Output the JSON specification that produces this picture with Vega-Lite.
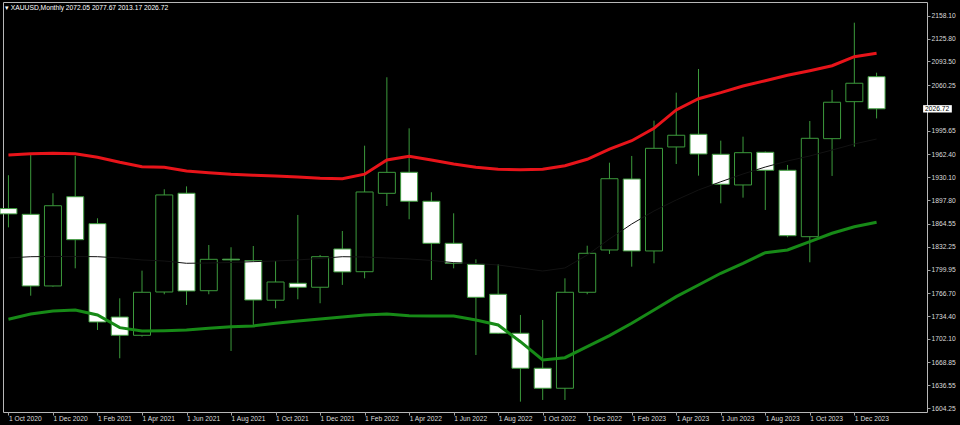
{
  "$schema": "https://vega.github.io/schema/vega-lite/v6.json",
  "width": 924,
  "height": 410,
  "autosize": {"type": "none"},
  "padding": {"left": 3, "top": 2, "right": 33, "bottom": 13},
  "background": "#000000",
  "title": {
    "text": "▾ XAUUSD,Monthly  2072.05 2077.67 2013.17 2026.72",
    "anchor": "start",
    "frame": "group",
    "orient": "top",
    "offset": -10,
    "dx": 2,
    "font": "Liberation Sans",
    "fontSize": 6.7,
    "fontWeight": "normal",
    "color": "#ffffff"
  },
  "config": {
    "view": {"stroke": "#b8b8b8", "strokeWidth": 1, "fill": "#000000"},
    "axis": {"labelOverlap": false, "labelSeparation": 0, "labelBound": false}
  },
  "datasets": {
    "candles": [
      {"idx": 0, "month": "2020-10", "open": 1886.0, "high": 1933.0, "low": 1859.5, "close": 1878.5, "upper": 1961.6, "middle": 1816.3, "lower": 1729.8},
      {"idx": 1, "month": "2020-11", "open": 1877.9, "high": 1963.0, "low": 1763.1, "close": 1776.8, "upper": 1963.4, "middle": 1818.1, "lower": 1737.3},
      {"idx": 2, "month": "2020-12", "open": 1776.8, "high": 1907.6, "low": 1775.8, "close": 1890.0, "upper": 1964.0, "middle": 1818.4, "lower": 1741.5},
      {"idx": 3, "month": "2021-01", "open": 1902.7, "high": 1960.2, "low": 1801.7, "close": 1842.1, "upper": 1963.4, "middle": 1818.4, "lower": 1742.9},
      {"idx": 4, "month": "2021-02", "open": 1864.7, "high": 1872.3, "low": 1714.7, "close": 1726.0, "upper": 1958.3, "middle": 1818.1, "lower": 1735.9},
      {"idx": 5, "month": "2021-03", "open": 1733.0, "high": 1759.4, "low": 1674.8, "close": 1707.2, "upper": 1951.3, "middle": 1816.3, "lower": 1718.0},
      {"idx": 6, "month": "2021-04", "open": 1707.2, "high": 1798.4, "low": 1705.3, "close": 1767.9, "upper": 1945.1, "middle": 1813.5, "lower": 1713.3},
      {"idx": 7, "month": "2021-05", "open": 1768.3, "high": 1913.2, "low": 1765.1, "close": 1905.2, "upper": 1944.2, "middle": 1812.0, "lower": 1713.7},
      {"idx": 8, "month": "2021-06", "open": 1907.6, "high": 1917.3, "low": 1750.0, "close": 1769.7, "upper": 1939.0, "middle": 1808.8, "lower": 1714.7},
      {"idx": 9, "month": "2021-07", "open": 1770.1, "high": 1834.6, "low": 1765.1, "close": 1814.4, "upper": 1936.6, "middle": 1809.2, "lower": 1717.1},
      {"idx": 10, "month": "2021-08", "open": 1814.6, "high": 1831.4, "low": 1685.1, "close": 1813.6, "upper": 1934.4, "middle": 1809.9, "lower": 1719.4},
      {"idx": 11, "month": "2021-09", "open": 1812.5, "high": 1833.2, "low": 1721.8, "close": 1757.0, "upper": 1933.0, "middle": 1811.1, "lower": 1720.4},
      {"idx": 12, "month": "2021-10", "open": 1756.7, "high": 1812.0, "low": 1745.3, "close": 1782.4, "upper": 1931.9, "middle": 1812.0, "lower": 1724.2},
      {"idx": 13, "month": "2021-11", "open": 1780.6, "high": 1877.0, "low": 1758.0, "close": 1775.0, "upper": 1930.5, "middle": 1813.5, "lower": 1727.4},
      {"idx": 14, "month": "2021-12", "open": 1775.0, "high": 1820.5, "low": 1752.4, "close": 1818.1, "upper": 1928.7, "middle": 1815.6, "lower": 1730.2},
      {"idx": 15, "month": "2022-01", "open": 1829.0, "high": 1854.3, "low": 1778.3, "close": 1796.6, "upper": 1928.1, "middle": 1818.1, "lower": 1733.0},
      {"idx": 16, "month": "2022-02", "open": 1796.9, "high": 1974.7, "low": 1787.6, "close": 1909.4, "upper": 1934.5, "middle": 1817.7, "lower": 1735.9},
      {"idx": 17, "month": "2022-03", "open": 1907.5, "high": 2071.2, "low": 1889.6, "close": 1937.1, "upper": 1954.5, "middle": 1816.3, "lower": 1737.3},
      {"idx": 18, "month": "2022-04", "open": 1937.2, "high": 1999.2, "low": 1870.9, "close": 1896.3, "upper": 1959.7, "middle": 1814.9, "lower": 1734.9},
      {"idx": 19, "month": "2022-05", "open": 1896.3, "high": 1909.0, "low": 1785.2, "close": 1837.0, "upper": 1954.5, "middle": 1812.8, "lower": 1734.5},
      {"idx": 20, "month": "2022-06", "open": 1837.0, "high": 1879.3, "low": 1801.7, "close": 1808.8, "upper": 1948.9, "middle": 1809.7, "lower": 1734.5},
      {"idx": 21, "month": "2022-07", "open": 1807.4, "high": 1814.4, "low": 1679.4, "close": 1760.8, "upper": 1944.2, "middle": 1808.5, "lower": 1728.8},
      {"idx": 22, "month": "2022-08", "open": 1765.1, "high": 1807.4, "low": 1709.0, "close": 1710.1, "upper": 1941.4, "middle": 1806.4, "lower": 1721.8},
      {"idx": 23, "month": "2022-09", "open": 1710.1, "high": 1735.9, "low": 1613.6, "close": 1660.7, "upper": 1940.8, "middle": 1802.2, "lower": 1698.2},
      {"idx": 24, "month": "2022-10", "open": 1660.7, "high": 1728.8, "low": 1616.0, "close": 1632.5, "upper": 1941.4, "middle": 1797.9, "lower": 1672.4},
      {"idx": 25, "month": "2022-11", "open": 1632.5, "high": 1787.6, "low": 1616.0, "close": 1767.9, "upper": 1946.5, "middle": 1802.2, "lower": 1675.6},
      {"idx": 26, "month": "2022-12", "open": 1767.9, "high": 1833.6, "low": 1765.1, "close": 1822.9, "upper": 1955.5, "middle": 1820.5, "lower": 1691.2},
      {"idx": 27, "month": "2023-01", "open": 1827.6, "high": 1950.7, "low": 1821.9, "close": 1928.1, "upper": 1970.0, "middle": 1843.1, "lower": 1706.7},
      {"idx": 28, "month": "2023-02", "open": 1927.7, "high": 1960.2, "low": 1804.0, "close": 1826.2, "upper": 1981.7, "middle": 1864.2, "lower": 1724.2},
      {"idx": 29, "month": "2023-03", "open": 1826.2, "high": 2010.0, "low": 1808.8, "close": 1971.0, "upper": 1999.2, "middle": 1882.6, "lower": 1742.9},
      {"idx": 30, "month": "2023-04", "open": 1972.9, "high": 2049.5, "low": 1948.9, "close": 1989.4, "upper": 2025.1, "middle": 1898.1, "lower": 1761.7},
      {"idx": 31, "month": "2023-05", "open": 1990.8, "high": 2082.9, "low": 1932.4, "close": 1963.0, "upper": 2041.0, "middle": 1912.2, "lower": 1778.2},
      {"idx": 32, "month": "2023-06", "open": 1962.6, "high": 1981.8, "low": 1893.4, "close": 1920.3, "upper": 2049.5, "middle": 1923.8, "lower": 1794.7},
      {"idx": 33, "month": "2023-07", "open": 1919.3, "high": 1987.4, "low": 1901.4, "close": 1964.8, "upper": 2058.9, "middle": 1934.8, "lower": 1808.8},
      {"idx": 34, "month": "2023-08", "open": 1965.4, "high": 1966.5, "low": 1884.0, "close": 1940.0, "upper": 2066.4, "middle": 1944.6, "lower": 1823.8},
      {"idx": 35, "month": "2023-09", "open": 1940.0, "high": 1947.5, "low": 1845.5, "close": 1847.7, "upper": 2074.0, "middle": 1953.1, "lower": 1827.6},
      {"idx": 36, "month": "2023-10", "open": 1846.3, "high": 2009.5, "low": 1810.2, "close": 1985.1, "upper": 2080.5, "middle": 1960.2, "lower": 1839.3},
      {"idx": 37, "month": "2023-11", "open": 1984.6, "high": 2053.3, "low": 1932.0, "close": 2036.0, "upper": 2087.5, "middle": 1968.6, "lower": 1851.1},
      {"idx": 38, "month": "2023-12", "open": 2036.8, "high": 2148.2, "low": 1973.3, "close": 2062.8, "upper": 2100.3, "middle": 1977.1, "lower": 1860.4},
      {"idx": 39, "month": "2024-01", "open": 2072.05, "high": 2077.67, "low": 2013.17, "close": 2026.72, "upper": 2105.0, "middle": 1984.1, "lower": 1866.6}
    ]
  },
  "data": {"name": "candles"},
  "layer": [
    {
      "mark": {"type": "rule", "color": "#3c9a3c", "strokeWidth": 1},
      "encoding": {
        "x": {
          "field": "idx",
          "type": "quantitative",
          "scale": {"domain": [-0.02, 41.04], "nice": false, "zero": false},
          "axis": {
            "title": null,
            "grid": false,
            "domain": false,
            "values": [0, 2, 4, 6, 8, 10, 12, 14, 16, 18, 20, 22, 24, 26, 28, 30, 32, 34, 36, 38],
            "tickCount": 60,
            "labelExpr": "'1 ' + ['Jan','Feb','Mar','Apr','May','Jun','Jul','Aug','Sep','Oct','Nov','Dec'][(datum.value + 9) % 12] + ' ' + (2020 + floor((datum.value + 9) / 12))",
            "labelAlign": "left",
            "labelBaseline": "top",
            "labelPadding": 0,
            "labelFlush": false,
            "labelOverlap": false,
            "labelFont": "Liberation Sans",
            "labelFontSize": 6.7,
            "labelColor": "#dcdcdc",
            "ticks": true,
            "tickColor": "#a0a0a0",
            "tickSize": 3
          }
        },
        "y": {
          "field": "low",
          "type": "quantitative",
          "scale": {"domain": [1599.0, 2177.4], "nice": false, "zero": false},
          "axis": {
            "title": null,
            "orient": "right",
            "grid": false,
            "domain": false,
            "values": [2158.10, 2125.80, 2093.50, 2060.25, 1995.65, 1962.40, 1930.10, 1897.80, 1864.55, 1832.25, 1799.95, 1766.70, 1734.40, 1702.10, 1668.85, 1636.55, 1604.25],
            "tickCount": 60,
            "format": ".2f",
            "labelAlign": "left",
            "labelPadding": 1,
            "labelFlush": false,
            "labelOverlap": false,
            "labelFont": "Liberation Sans",
            "labelFontSize": 6.7,
            "labelColor": "#dcdcdc",
            "ticks": true,
            "tickColor": "#a0a0a0",
            "tickSize": 3
          }
        },
        "y2": {"field": "high"}
      }
    },
    {
      "mark": {"type": "bar", "size": 17, "stroke": "#3c9a3c", "strokeWidth": 1},
      "encoding": {
        "x": {"field": "idx", "type": "quantitative"},
        "y": {"field": "open", "type": "quantitative"},
        "y2": {"field": "close"},
        "fill": {"condition": {"test": "datum.open > datum.close", "value": "#ffffff"}, "value": "#000000"}
      }
    },
    {
      "mark": {"type": "line", "color": "#121212", "strokeWidth": 1},
      "encoding": {
        "x": {"field": "idx", "type": "quantitative"},
        "y": {"field": "middle", "type": "quantitative"}
      }
    },
    {
      "mark": {"type": "line", "color": "#e8141a", "strokeWidth": 3},
      "encoding": {
        "x": {"field": "idx", "type": "quantitative"},
        "y": {"field": "upper", "type": "quantitative"}
      }
    },
    {
      "mark": {"type": "line", "color": "#178a17", "strokeWidth": 3},
      "encoding": {
        "x": {"field": "idx", "type": "quantitative"},
        "y": {"field": "lower", "type": "quantitative"}
      }
    },
    {
      "data": {"values": [{"price": 2026.72}]},
      "mark": {"type": "rect", "fill": "#ffffff"},
      "encoding": {
        "x": {"datum": 41.09},
        "x2": {"datum": 42.38},
        "y": {"datum": 2031.9},
        "y2": {"datum": 2021.5}
      }
    },
    {
      "data": {"values": [{"price": 2026.72}]},
      "mark": {"type": "text", "align": "left", "baseline": "middle", "color": "#000000", "font": "Liberation Sans", "fontSize": 6.7, "dx": 2},
      "encoding": {
        "x": {"datum": 41.09},
        "y": {"field": "price", "type": "quantitative"},
        "text": {"field": "price", "type": "quantitative", "format": ".2f"}
      }
    }
  ]
}
